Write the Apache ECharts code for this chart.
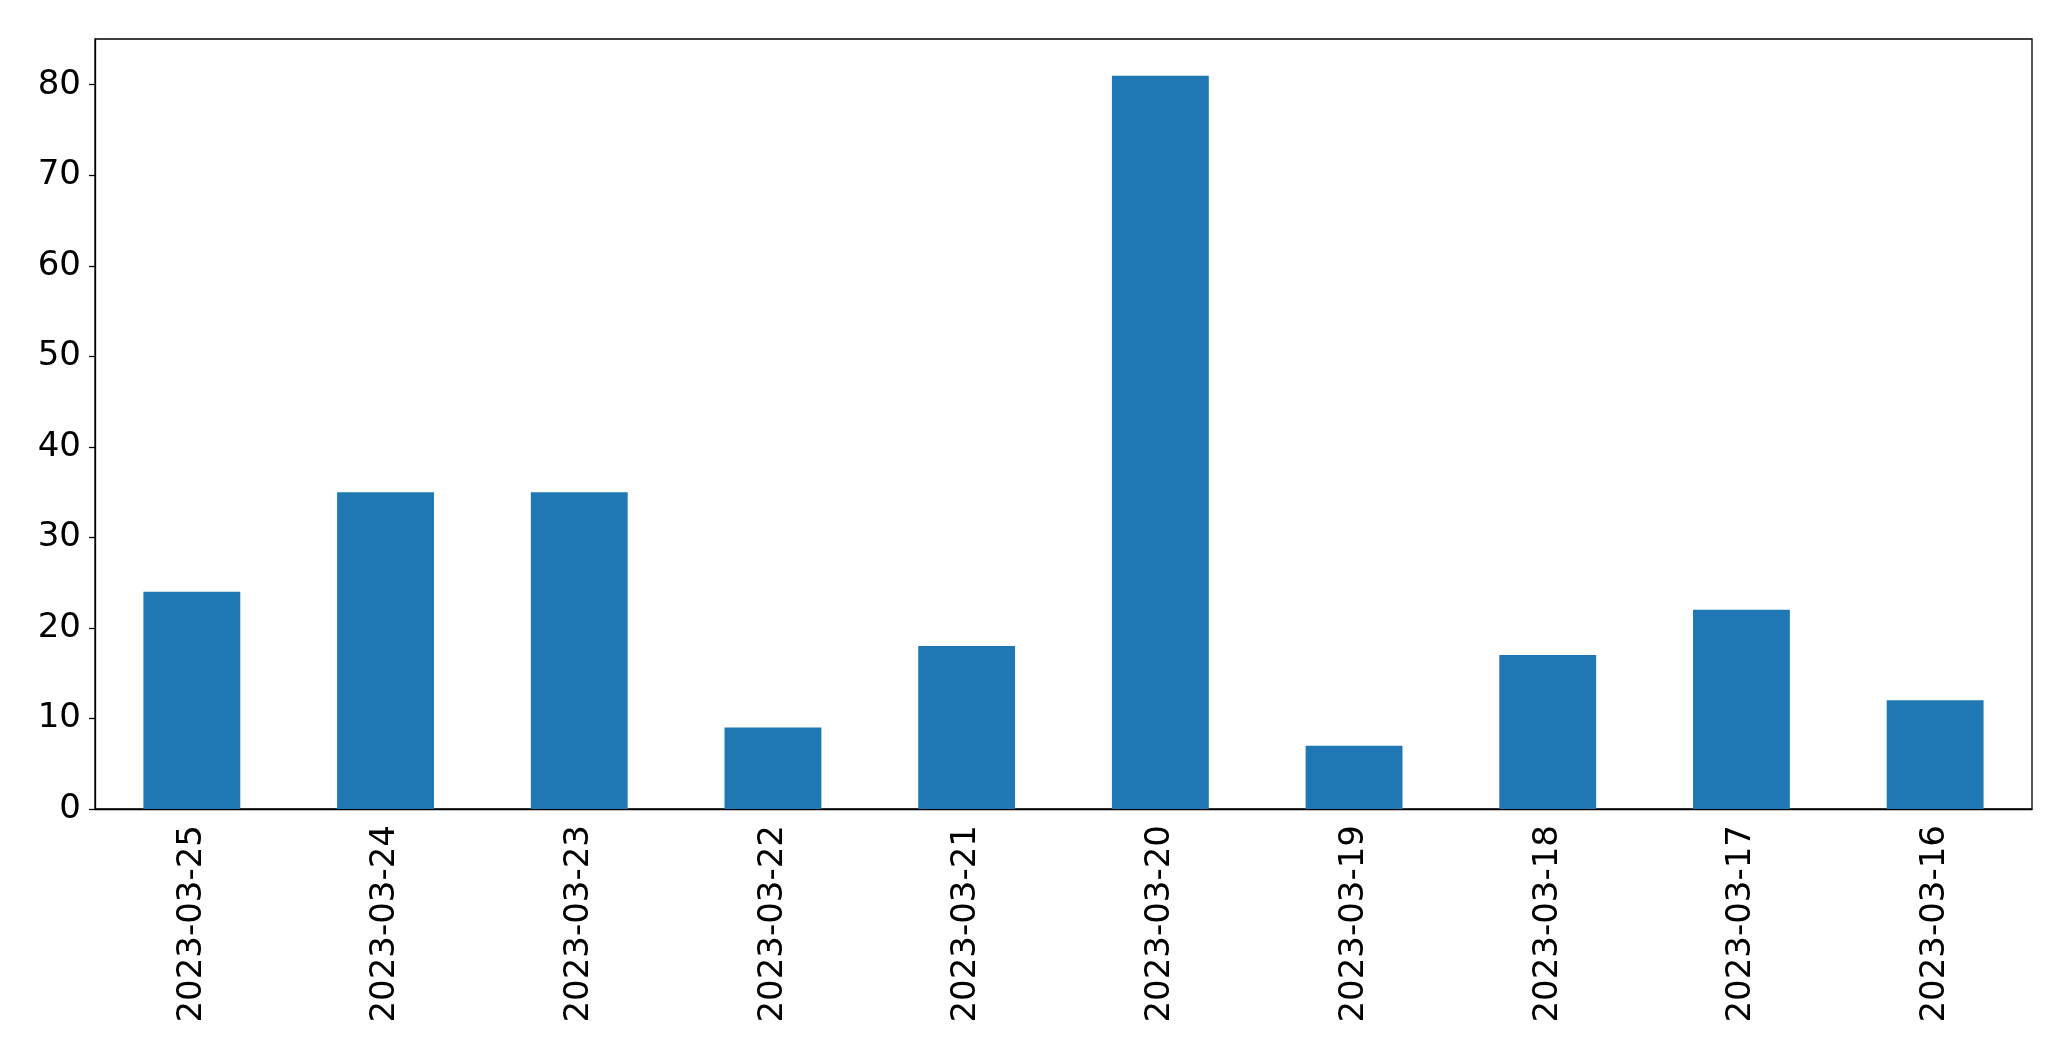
<!DOCTYPE html>
<html><head><meta charset="utf-8">
<script src="https://cdn.jsdelivr.net/npm/echarts@6/dist/echarts.min.js"></script>
<style>html,body{margin:0;padding:0;background:#fff}#c{width:2071px;height:1061px}</style>
</head><body><div id="c"></div>
<script>
const categories = ["2023-03-25","2023-03-24","2023-03-23","2023-03-22","2023-03-21","2023-03-20","2023-03-19","2023-03-18","2023-03-17","2023-03-16"];
const values = [24, 35, 35, 9, 18, 81, 7, 17, 22, 12];
const yTicks = [0, 10, 20, 30, 40, 50, 60, 70, 80];

const chart = echarts.init(document.getElementById('c'), null, {renderer: 'canvas'});
chart.setOption({
  animation: false,
  backgroundColor: '#fff',
  grid: {left: 95, top: 39, width: 1937, height: 770, show: true, borderColor: '#000', borderWidth: 1.3, backgroundColor: 'transparent'},
  xAxis: {
    type: 'category', data: categories,
    axisLine: {lineStyle: {color: '#000', width: 1.3}},
    axisTick: {alignWithLabel: true, length: 6, lineStyle: {color: '#000', width: 1.3}},
    axisLabel: {rotate: 90, margin: 16, fontSize: 34, color: '#000', fontFamily: 'DejaVu Sans'},
    splitLine: {show: false}
  },
  yAxis: {
    type: 'value', min: 0, max: 85.05, interval: 10,
    axisLine: {show: true, lineStyle: {color: '#000', width: 1.3}},
    axisTick: {show: true, length: 6, customValues: yTicks, lineStyle: {color: '#000', width: 1.3}},
    axisLabel: {margin: 14, fontSize: 34, color: '#000', fontFamily: 'DejaVu Sans', customValues: yTicks,
      formatter: v => yTicks.includes(v) ? String(v) : ''},
    splitLine: {show: false}
  },
  series: [{type: 'bar', data: values, barWidth: '50%', itemStyle: {color: '#1f77b4'}}]
});
</script></body></html>
